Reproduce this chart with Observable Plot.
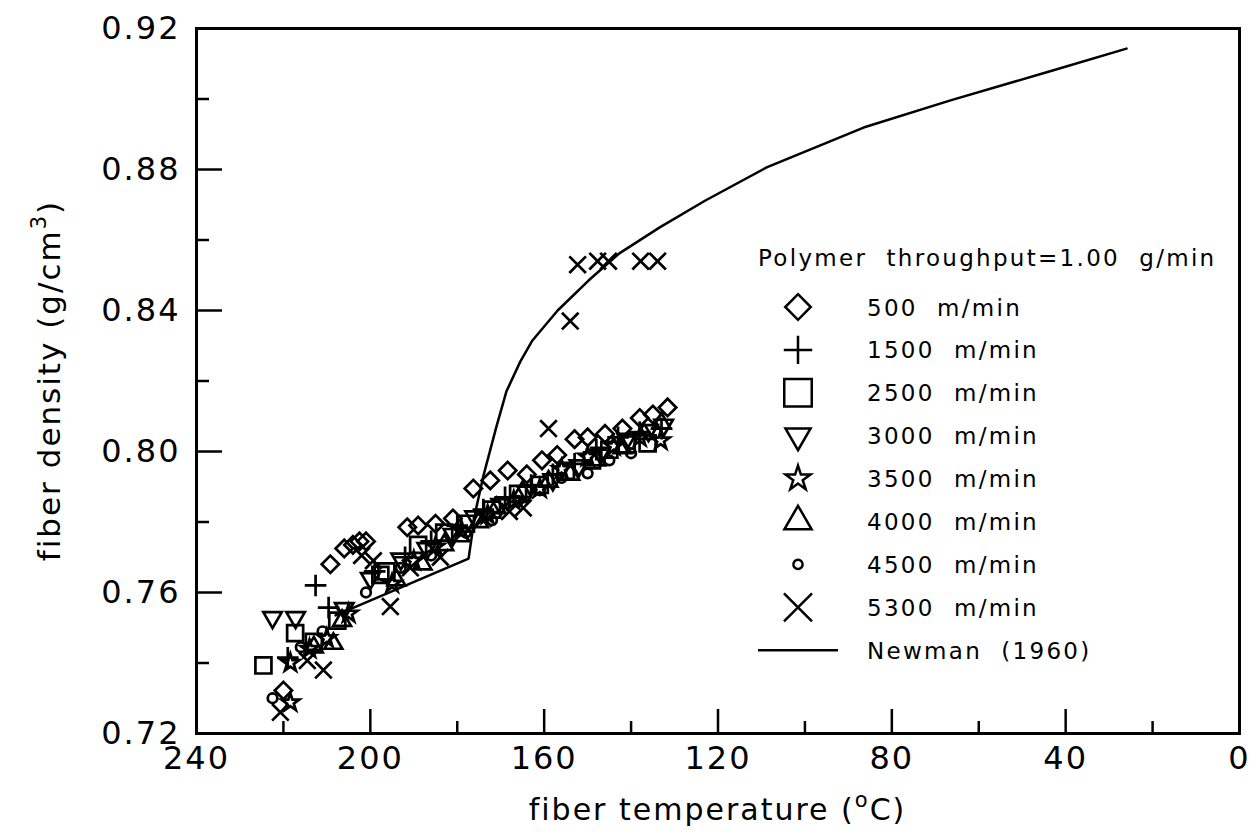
<!DOCTYPE html>
<html><head><meta charset="utf-8">
<script src="https://cdn.jsdelivr.net/npm/d3@7"></script>
<script src="https://cdn.jsdelivr.net/npm/@observablehq/plot@0.6"></script>
<style>
html,body{margin:0;padding:0;background:#fff;}
#chart{position:relative;width:1258px;height:835px;}
svg text{font-family:"DejaVu Sans",sans-serif;}
</style></head><body><div id="chart"></div>
<script>
// ---- data: [fiber temperature (°C), fiber density (g/cm3)] ----
const legendTitle = "Polymer  throughput=1.00  g/min";
const seriesNames = ["500  m/min","1500  m/min","2500  m/min","3000  m/min","3500  m/min","4000  m/min","4500  m/min","5300  m/min"];
const newmanName = "Newman  (1960)";
const s500 = [[220,0.7322],[209.2,0.768],[206,0.7725],[204,0.7735],[202.5,0.7745],[201,0.7745],[191.5,0.7785],[189,0.779],[185,0.7795],[181,0.781],[176.3,0.7895],[172.4,0.7918],[168.4,0.7946],[164,0.7935],[160.5,0.7975],[157,0.799],[153,0.8035],[150,0.804],[146,0.805],[142,0.8065],[138,0.8095],[135,0.8105],[131.6,0.8125]];
const s1500 = [[212.6,0.762],[209.6,0.7557],[219,0.7415],[199,0.766],[192,0.77],[186,0.7745],[180,0.779],[174,0.7835],[169,0.787],[163,0.7905],[158,0.7935],[153,0.7965],[148,0.8005],[143,0.804],[138,0.8055],[133,0.8065]];
const s2500 = [[224.6,0.7393],[217.3,0.7485],[213,0.746],[207.6,0.752],[197.7,0.765],[196.3,0.766],[189,0.7735],[183,0.777],[178,0.7795],[172,0.7835],[166,0.788],[161,0.7905],[155,0.7945],[149,0.7975],[145,0.8005],[141,0.802],[136.2,0.8023]];
const s3000 = [[222.5,0.7529],[217.2,0.7529],[206,0.7555],[200,0.764],[193,0.7695],[187,0.7725],[181,0.7765],[176,0.7815],[170,0.785],[164,0.7885],[158,0.792],[152,0.796],[147,0.7995],[141,0.8035],[136,0.806],[132.5,0.8075]];
const s3500 = [[218.4,0.7288],[218.4,0.74],[214,0.744],[210,0.747],[205,0.754],[195,0.7625],[190,0.769],[185,0.773],[179,0.7775],[173,0.782],[167,0.786],[161,0.7895],[156,0.795],[150,0.7985],[144,0.8015],[138,0.804],[133.2,0.8031]];
const s4000 = [[213,0.7445],[208.5,0.7455],[206.5,0.752],[194,0.7635],[188,0.768],[183,0.7735],[179.3,0.776],[175,0.78],[171,0.784],[165,0.7885],[159,0.7915],[154,0.7935],[148,0.7975],[142,0.801],[137,0.805],[133,0.808]];
const s4500 = [[222.5,0.73],[216,0.7445],[211,0.749],[201,0.76],[193,0.767],[186,0.7705],[178,0.777],[172,0.7805],[166,0.786],[161,0.789],[156,0.7925],[150,0.7938],[145,0.7975],[140,0.7995]];
const s5300 = [[220.7,0.726],[214.5,0.7407],[210.8,0.738],[199.3,0.769],[202,0.7705],[195.4,0.756],[190.8,0.767],[183.9,0.77],[174,0.781],[168,0.783],[164.8,0.784],[159,0.8065],[154,0.837],[152.3,0.853],[147.7,0.854],[145.2,0.854],[137.8,0.854],[133.9,0.854]];
const newman = [[208,0.7535],[177.4,0.7696],[175.8,0.783],[174,0.793],[171,0.807],[168.7,0.817],[165.5,0.8255],[162.7,0.8315],[156.9,0.84],[149.8,0.8485],[142.7,0.8562],[133.5,0.8635],[122.9,0.8712],[108.8,0.8806],[86.5,0.8919],[66.5,0.8996],[43,0.9081],[26,0.9143]];
const xMajor = [240,200,160,120,80,40,0];
const xMinor = [220,180,140,100,60,20];
const yMajor = [0.72,0.76,0.80,0.84,0.88,0.92];
const yMinor = [0.74,0.78,0.82,0.86,0.90];

// ---- layout / style ----
const W = 1258, H = 835, mL = 196, mR = 19, mT = 28, mB = 102;
const innerW = W - mL - mR, innerH = H - mT - mB;
const triDown = {draw(ctx, size) {
  const s = Math.sqrt(size) * 0.6824, t = s / 2, u = s * Math.sqrt(3) / 2;
  ctx.moveTo(0, s); ctx.lineTo(-u, -t); ctx.lineTo(u, -t); ctx.closePath();
}};
const seriesData = [s500, s1500, s2500, s3000, s3500, s4000, s4500, s5300];
const symbols = ["diamond2", "plus", "square2", triDown, "star", "triangle2", "circle", "times"];
const d3Symbols = [d3.symbolDiamond2, d3.symbolPlus, d3.symbolSquare2, triDown, d3.symbolStar, d3.symbolTriangle2, d3.symbolCircle, d3.symbolTimes];
const plotR = [7.8, 7, 10.2, 8.8, 5.6, 8.5, 4.8, 7.6];
const legendR = [11.5, 9.2, 17.5, 12, 7.8, 13, 4.6, 12.8];

const marks = [
  Plot.tickX(xMajor, {x: d => d, insetTop: innerH - 24, strokeWidth: 2.5}),
  Plot.tickX(xMinor, {x: d => d, insetTop: innerH - 12, strokeWidth: 2.5}),
  Plot.tickY(yMajor, {y: d => d, insetRight: innerW - 26, strokeWidth: 2.5}),
  Plot.tickY(yMinor, {y: d => d, insetRight: innerW - 13, strokeWidth: 2.5}),
  Plot.axisX(xMajor, {tickSize: 0, tickPadding: 13, fontSize: 32, tickFormat: d => String(d), label: null}),
  Plot.axisY(yMajor, {tickSize: 0, tickPadding: 16, fontSize: 32, tickFormat: d => d.toFixed(2), label: null}),
  Plot.line(newman, {x: d => d[0], y: d => d[1], stroke: "black", strokeWidth: 2.5}),
  ...seriesData.map((data, i) => Plot.dot(data, {
    x: d => d[0], y: d => d[1], symbol: symbols[i], r: plotR[i],
    fill: "none", stroke: "black", strokeWidth: 2.7
  })),
  Plot.frame({stroke: "black", strokeWidth: 3})
];

const chart = Plot.plot({
  width: W, height: H,
  marginLeft: mL, marginRight: mR, marginTop: mT, marginBottom: mB,
  x: {domain: [240, 0]},
  y: {domain: [0.72, 0.92]},
  style: {fontFamily: "DejaVu Sans, sans-serif", color: "black", background: "white", letterSpacing: "2px"},
  marks
});
document.getElementById("chart").appendChild(chart);

// ---- axis titles and legend ----
const svg = d3.select(chart);
const xt = svg.append("text").attr("x", mL + innerW / 2).attr("y", 820)
  .attr("text-anchor", "middle").attr("font-size", 30).attr("letter-spacing", "2px").attr("fill", "black");
xt.append("tspan").text("fiber temperature (");
xt.append("tspan").attr("font-size", 21).attr("dy", -13).text("o");
xt.append("tspan").attr("dy", 13).text("C)");

const yt = svg.append("text").attr("transform", `translate(60,${mT + innerH / 2}) rotate(-90)`)
  .attr("text-anchor", "middle").attr("font-size", 31).attr("letter-spacing", "2px").attr("fill", "black");
yt.append("tspan").text("fiber density (g/cm");
yt.append("tspan").attr("font-size", 21).attr("dy", -14).text("3");
yt.append("tspan").attr("dy", 14).text(")");

const lg = svg.append("g").attr("font-size", 23).attr("letter-spacing", "2.3px").attr("fill", "black").attr("text-anchor", "start");
lg.append("text").attr("x", 758).attr("y", 266).attr("text-anchor", "start").style("white-space", "pre").text(legendTitle);
const rowY = i => 307 + i * 42.9;
seriesNames.forEach((name, i) => {
  lg.append("path")
    .attr("transform", `translate(798,${rowY(i)})`)
    .attr("d", d3.symbol(d3Symbols[i], Math.PI * legendR[i] * legendR[i])())
    .attr("fill", "none").attr("stroke", "black").attr("stroke-width", 2.5);
  lg.append("text").attr("x", 867).attr("y", rowY(i) + 8.5).attr("text-anchor", "start").style("white-space", "pre").text(name);
});
lg.append("line").attr("x1", 758).attr("x2", 838).attr("y1", rowY(8)).attr("y2", rowY(8))
  .attr("stroke", "black").attr("stroke-width", 2.5);
lg.append("text").attr("x", 867).attr("y", rowY(8) + 8.5).attr("text-anchor", "start").style("white-space", "pre").text(newmanName);
</script></body></html>
